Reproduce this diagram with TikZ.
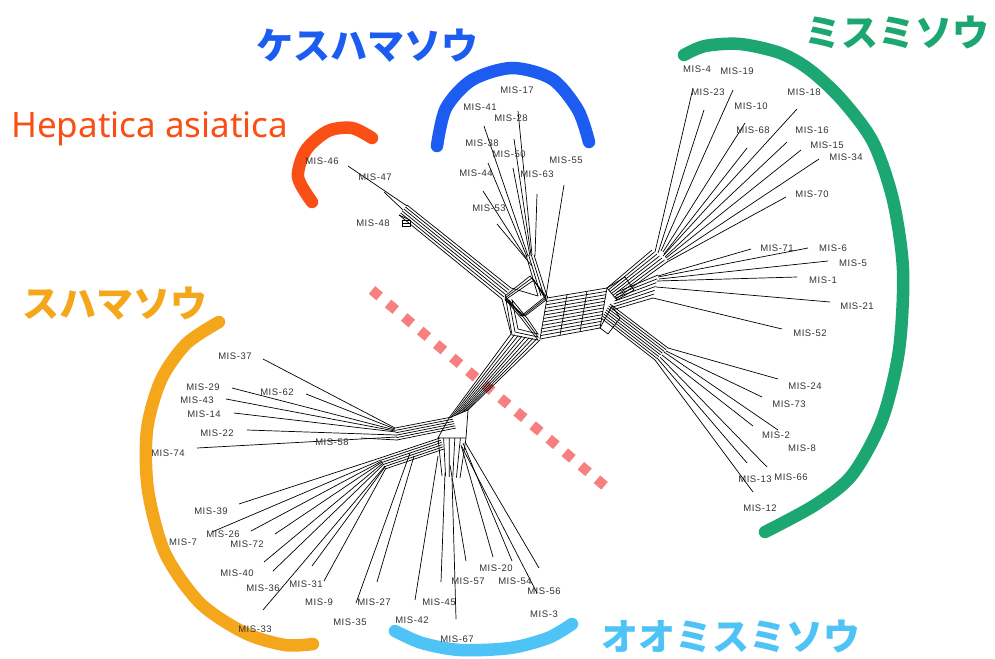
\documentclass[tikz,border=0pt]{standalone}
\usepackage{fontspec}
\setmainfont{Liberation Sans}[LetterSpace=6]
\newfontfamily\cjk{Noto Sans CJK JP}
\newfontfamily\notosans{Noto Sans}
\usetikzlibrary{calc}
\definecolor{kblue}{HTML}{1C5CF0}
\definecolor{mgreen}{HTML}{1BA672}
\definecolor{oblue}{HTML}{4EC3F5}
\definecolor{sorange}{HTML}{F5A71B}
\definecolor{hred}{HTML}{FA4F14}
\definecolor{pinkdot}{HTML}{F77F7F}
\definecolor{labgray}{HTML}{333333}
\tikzset{
  edge/.style={draw=black,line width=0.7pt},
  lab/.style={font=\fontsize{9.5}{9.5}\selectfont,text=labgray,inner sep=0pt},
  arcline/.style={line width=12.5pt,line cap=round},
  title/.style={font=\cjk\bfseries\fontsize{37}{37}\selectfont,inner sep=0pt},
}
\newcommand{\band}[5]{%
  \foreach \k in {0,...,#5}{%
    \pgfmathsetmacro\tfrac{\k/#5}%
    \draw[edge] ($(#1)!\tfrac!(#2)$) -- ($(#3)!\tfrac!(#4)$);
  }}
\newcommand{\misleaf}[4]{%
  \coordinate (b#1) at (#2);
  \coordinate (e#1) at (#3);
  \node[lab] (l#1) at (#4) {MIS-#1};
  \draw[edge] (b#1) -- (e#1);}
\begin{document}
\begin{tikzpicture}[x=1pt,y=-1pt]
\fill[white] (0,0) rectangle (995,658);
\useasboundingbox (0,0) rectangle (995,658);

% ---------- coloured arcs ----------
\draw[arcline,mgreen] plot[smooth] coordinates {(684,55) (705,46) (740,44) (780,53) (810,70) (842,100) (873,142) (893,200) (903,270) (899,350) (882,420) (852,475) (815,505) (765,532)};
\draw[arcline,kblue] plot[smooth] coordinates {(437,146) (446,108) (472,80) (512,68) (552,79) (578,110) (589,142)};
\draw[arcline,hred] plot[smooth] coordinates {(372,138) (352,128) (328,131) (306,150) (298,177) (312,202)};
\draw[arcline,sorange] plot[smooth] coordinates {(219,322) (186,344) (161,380) (147,430) (148,490) (165,553) (200,603) (245,633) (285,645) (313,644)};
\draw[arcline,oblue] plot[smooth] coordinates {(395,631) (422,643) (460,650) (510,648) (548,638) (572,624)};

% dotted divider
\draw[pinkdot,line width=10pt,dash pattern=on 10pt off 11pt] (372,290) -- (612,492);

% ---------- titles ----------
\node[title,text=kblue] (tKesu) at (367,46) {ケスハマソウ};
\node[title,text=mgreen] (tMisu) at (897,32) {ミスミソウ};
\node[title,text=oblue] (tOo) at (731,636) {オオミスミソウ};
\node[title,text=sorange] (tSuha) at (115,304) {スハマソウ};
\node[font=\notosans\fontsize{35}{35}\selectfont,text=hred,anchor=base west,inner sep=0pt] (tHep) at (11,137) {Hepatica asiatica};

% ---------- network skeleton ----------
\coordinate (hA1) at (407,205); \coordinate (hA2) at (399,215);
\coordinate (hB1) at (511,288); \coordinate (hB2) at (502,299);
\band{hA1}{hA2}{hB1}{hB2}{5}
\coordinate (tA1) at (526,255); \coordinate (tA2) at (534,255);
\coordinate (tB1) at (538,296); \coordinate (tB2) at (547,296);
\band{tA1}{tA2}{tB1}{tB2}{3}
\coordinate (rA1) at (547,298); \coordinate (rA2) at (540,339);
\coordinate (rB1) at (607,288); \coordinate (rB2) at (600,328);
\band{rA1}{rA2}{rB1}{rB2}{12}
\band{rA1}{rB1}{rA2}{rB2}{3}
\coordinate (uA1) at (607,288); \coordinate (uA2) at (616,299);
\coordinate (uB1) at (652,250); \coordinate (uB2) at (667,262);
\band{uA1}{uA2}{uB1}{uB2}{6}
\coordinate (mA1) at (617,292); \coordinate (mA2) at (612,310);
\coordinate (mB1) at (658,275); \coordinate (mB2) at (653,298);
\band{mA1}{mA2}{mB1}{mB2}{6}
\coordinate (lA1) at (601,318); \coordinate (lA2) at (610,304);
\coordinate (lB1) at (655,360); \coordinate (lB2) at (668,348);
\band{lA1}{lA2}{lB1}{lB2}{7}
\coordinate (dA1) at (511,334); \coordinate (dA2) at (540,340);
\coordinate (dB1) at (449,418); \coordinate (dB2) at (468,410);
\band{dA1}{dA2}{dB1}{dB2}{8}
\coordinate (pA1) at (452,417); \coordinate (pA2) at (456,428);
\coordinate (pB1) at (395,428); \coordinate (pB2) at (397,440);
\band{pA1}{pA2}{pB1}{pB2}{5}
\coordinate (qA1) at (440,438); \coordinate (qA2) at (444,449);
\coordinate (qB1) at (380,458); \coordinate (qB2) at (385,469);
\band{qA1}{qA2}{qB1}{qB2}{5}
\coordinate (vA1) at (438,438); \coordinate (vA2) at (466,438);
\coordinate (vB1) at (442,476); \coordinate (vB2) at (460,478);
\band{vA1}{vA2}{vB1}{vB2}{5}
\draw[edge] (dB1) -- (dB2) -- (vA2) -- (vA1) -- cycle;
% centre boxes
\foreach \s in {0,2,4}{
  \draw[edge] ($(505,296)+(0,\s)$) -- ($(530,276)+(\s,\s)$) -- ($(546,296)+(0,\s)$) -- ($(521,316)+(\s,0)$) -- cycle;}
\foreach \s in {0,3,6}{
  \draw[edge] ($(506,300)+(\s,0)$) -- ($(521,318)+(\s,0)$) -- ($(538,340)+(0,-\s)$) -- ($(512,335)+(\s,-\s)$) -- cycle;}
\draw[edge] (hB1) -- (tB1); \draw[edge] (hB2) -- (dA1);
\draw[edge] (tB2) -- (rA1);
% right hub box
\draw[edge] (rB1) -- (625,277) -- (634,290) -- (617,300) -- cycle;
\draw[edge] (rB2) -- (612,306) -- (620,318) -- (608,334) -- cycle;
% small Hepatica box
\draw[edge] (402,220) rectangle (410,226);
\draw[edge] (410,220) -- (hA2);

% ---------- leaves: Hepatica ----------
\misleaf{46}{407,206}{348,166}{322,161}
\misleaf{47}{403,210}{384,192}{375,177}
\misleaf{48}{410,223}{403,223}{373,223}

% ---------- leaves: kesuhamasou ----------
\misleaf{17}{532,255}{518,111}{517,90}
\misleaf{41}{528,256}{484,126}{480,107}
\misleaf{28}{531,255}{514,139}{511,118}
\misleaf{38}{527,257}{488,163}{482,143}
\misleaf{50}{530,256}{513,168}{509,154}
\misleaf{44}{526,258}{483,191}{476,173}
\misleaf{63}{535,256}{537,194}{537,174}
\misleaf{55}{546,296}{564,185}{566,160}
\misleaf{53}{532,266}{497,224}{489,208}

% ---------- leaves: misumisou ----------
\misleaf{4}{655,252}{693,88}{697,69}
\misleaf{23}{658,253}{704,110}{708,92}
\misleaf{19}{661,251}{733,90}{737,71}
\misleaf{10}{663,252}{745,123}{751,106}
\misleaf{68}{664,254}{747,148}{753,130}
\misleaf{18}{663,256}{797,109}{804,92}
\misleaf{16}{665,257}{787,142}{812,130}
\misleaf{15}{666,258}{801,150}{827,145}
\misleaf{34}{667,260}{819,159}{846,157}
\misleaf{70}{667,262}{786,197}{812,194}
\misleaf{71}{658,276}{751,249}{777,248}
\misleaf{6}{658,277}{808,248}{833,248}
\misleaf{5}{659,279}{828,261}{853,263}
\misleaf{1}{657,281}{797,277}{823,280}
\misleaf{21}{656,287}{830,302}{857,306}
\misleaf{52}{653,298}{782,329}{810,333}
\misleaf{24}{668,348}{778,379}{805,386}
\misleaf{73}{666,351}{762,397}{789,404}
\misleaf{2}{662,355}{753,426}{776,435}
\misleaf{8}{664,352}{778,430}{802,448}
\misleaf{66}{660,357}{767,467}{791,477}
\misleaf{13}{657,358}{747,463}{755,479}
\misleaf{12}{655,360}{753,492}{760,508}

% ---------- leaves: suhamasou ----------
\misleaf{37}{395,428}{263,359}{235,356}
\misleaf{62}{395,429}{306,394}{277,392}
\misleaf{29}{395,430}{232,388}{203,387}
\misleaf{43}{395,431}{226,399}{197,400}
\misleaf{14}{396,432}{234,413}{204,414}
\misleaf{22}{396,435}{247,430}{217,433}
\misleaf{74}{397,437}{197,448}{168,453}
\misleaf{58}{397,440}{361,438}{332,442}
\misleaf{39}{380,458}{239,504}{211,511}
\misleaf{7}{381,460}{212,532}{183,542}
\misleaf{26}{382,461}{251,531}{223,534}
\misleaf{72}{382,462}{275,534}{247,544}
\misleaf{40}{383,463}{264,562}{237,573}
\misleaf{36}{384,464}{273,571}{263,588}
\misleaf{33}{385,466}{263,610}{255,629}
\misleaf{31}{385,467}{312,566}{306,584}
\misleaf{9}{386,468}{324,581}{319,602}

% ---------- leaves: oomisumisou ----------
\misleaf{35}{410,453}{356,603}{350,622}
\misleaf{27}{414,456}{377,582}{374,602}
\misleaf{42}{438,456}{415,600}{412,620}
\misleaf{45}{445,473}{441,582}{439,602}
\misleaf{67}{452,478}{456,619}{457,639}
\misleaf{57}{450,465}{466,561}{468,581}
\misleaf{20}{461,445}{493,557}{496,568}
\misleaf{54}{463,443}{512,561}{515,581}
\misleaf{56}{465,442}{539,568}{544,591}
\misleaf{3}{462,447}{537,593}{544,614}
\end{tikzpicture}
\end{document}
